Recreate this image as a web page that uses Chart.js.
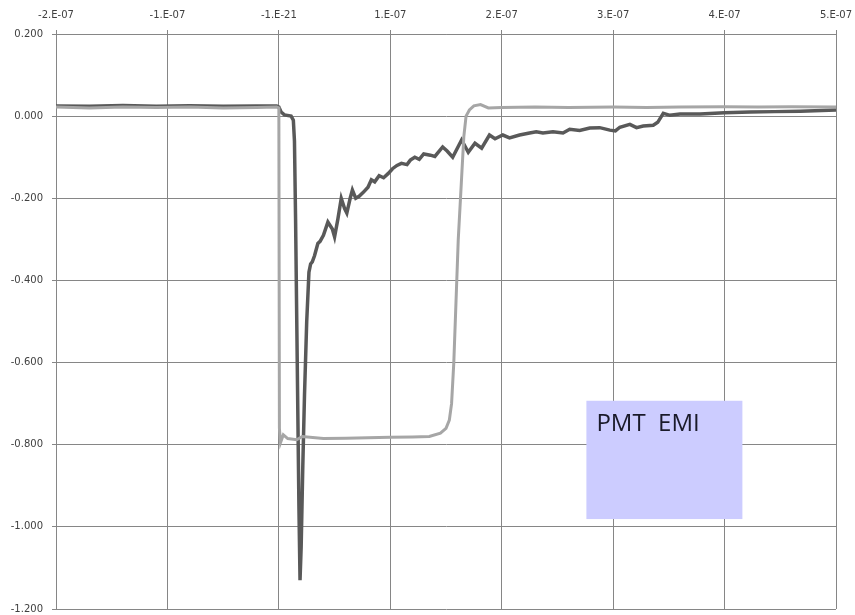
<!DOCTYPE html>
<html>
<head>
<meta charset="utf-8">
<script src="https://cdn.jsdelivr.net/npm/chart.js@4/dist/chart.umd.min.js"></script>
<style>
  html, body { margin: 0; padding: 0; background: #fff; }
  #wrap { width: 855px; height: 615px; }
</style>
</head>
<body>
<div id="wrap"><canvas id="chart" width="855" height="615"></canvas></div>
<script>
// Time axis in ns, labels as in the original export
const xTickLabels = ['-2.E-07', '-1.E-07', '-1.E-21', '1.E-07', '2.E-07', '3.E-07', '4.E-07', '5.E-07'];
const yTickLabels = ['0.200', '0.000', '-0.200', '-0.400', '-0.600', '-0.800', '-1.000', '-1.200'];

// Light trace (gate pulse)
const gateTime = [-200, -170, -140, -110, -80, -50, -20, -2, 0, 0.5, 1.5, 4, 8, 16, 21, 40, 60, 80, 100, 120, 135, 145, 150, 153, 155, 157, 159, 161, 164, 166, 168, 171, 175, 181, 188, 200, 230, 260, 300, 330, 360, 400, 430, 460, 500];
const gateValue = [0.022, 0.020, 0.022, 0.021, 0.022, 0.020, 0.021, 0.022, 0.020, -0.76, -0.795, -0.776, -0.785, -0.788, -0.780, -0.785, -0.784, -0.783, -0.782, -0.781, -0.780, -0.772, -0.760, -0.740, -0.700, -0.600, -0.450, -0.300, -0.150, -0.050, 0.000, 0.015, 0.025, 0.028, 0.020, 0.021, 0.022, 0.021, 0.022, 0.021, 0.022, 0.023, 0.022, 0.023, 0.022];

// Dark trace (PMT signal)
const pmtTime = [-200, -170, -140, -110, -80, -50, -20, -2, 0, 2, 5, 11, 13, 14, 15, 16.5, 18, 19, 20, 21.5, 23, 25, 27, 28.5, 30, 32, 35, 37, 40, 44, 48, 50, 53, 56, 59, 61, 64, 66, 69, 72, 76, 80, 83, 86, 90, 94, 98, 102, 106, 110, 115, 118, 122, 126, 130, 136, 140, 147, 151, 156, 164, 170, 176, 182, 189, 194, 201, 207, 216, 225, 231, 237, 246, 255, 261, 270, 279, 288, 297, 302, 306, 315, 321, 327, 336, 340, 345, 351, 360, 378, 400, 423, 445, 468, 500];
const pmtValue = [0.025, 0.024, 0.026, 0.024, 0.025, 0.024, 0.025, 0.025, 0.022, 0.010, 0.003, 0.000, -0.010, -0.060, -0.250, -0.600, -0.950, -1.130, -1.050, -0.850, -0.680, -0.500, -0.380, -0.360, -0.355, -0.340, -0.310, -0.305, -0.290, -0.258, -0.275, -0.294, -0.250, -0.200, -0.225, -0.236, -0.200, -0.180, -0.200, -0.195, -0.185, -0.173, -0.155, -0.160, -0.145, -0.150, -0.140, -0.128, -0.120, -0.115, -0.118, -0.107, -0.100, -0.105, -0.092, -0.095, -0.098, -0.075, -0.085, -0.100, -0.058, -0.088, -0.066, -0.078, -0.046, -0.055, -0.046, -0.053, -0.046, -0.041, -0.038, -0.041, -0.038, -0.041, -0.032, -0.035, -0.029, -0.028, -0.034, -0.036, -0.027, -0.020, -0.028, -0.024, -0.022, -0.015, 0.007, 0.002, 0.005, 0.005, 0.008, 0.010, 0.011, 0.012, 0.015];

const boxText = 'PMT  EMI';

function toPoints(xs, ys) {
  return xs.map((x, i) => ({ x: x, y: ys[i] }));
}

// Lavender text box, drawn in data coordinates
const textBoxPlugin = {
  id: 'textBox',
  afterDatasetsDraw(chart) {
    const { ctx, scales } = chart;
    const x0 = scales.x.getPixelForValue(276);
    const x1 = scales.x.getPixelForValue(416);
    const y0 = scales.y.getPixelForValue(-0.693);
    const y1 = scales.y.getPixelForValue(-0.981);
    ctx.save();
    ctx.fillStyle = '#ccccff';
    ctx.fillRect(x0, y0, x1 - x0, y1 - y0);
    ctx.fillStyle = '#1a1a2a';
    ctx.font = '24px "Open Sans", "Liberation Sans", sans-serif';
    ctx.textBaseline = 'alphabetic';
    ctx.fillText(boxText, x0 + 10, y0 + 30);
    ctx.restore();
  }
};

const tickFont = { family: 'DejaVu Sans', size: 10 };

new Chart(document.getElementById('chart'), {
  type: 'scatter',
  data: {
    datasets: [
      {
        label: 'Gate',
        data: toPoints(gateTime, gateValue),
        showLine: true,
        borderColor: '#a6a6a6',
        borderWidth: 3,
        pointRadius: 0,
        tension: 0
      },
      {
        label: 'PMT',
        data: toPoints(pmtTime, pmtValue),
        showLine: true,
        borderColor: '#595959',
        borderWidth: 3.5,
        pointRadius: 0,
        tension: 0
      }
    ]
  },
  options: {
    responsive: false,
    animation: false,
    layout: { padding: { top: 0, right: 19, bottom: 6, left: 0 } },
    plugins: {
      legend: { display: false },
      tooltip: { enabled: false }
    },
    scales: {
      x: {
        type: 'linear',
        position: 'top',
        min: -200,
        max: 500,
        afterFit(axis) {
          axis.height = 34;
          axis.paddingLeft = 0;
          axis.paddingRight = 0;
        },
        ticks: {
          stepSize: 100,
          color: '#404040',
          font: tickFont,
          maxRotation: 0,
          padding: 9,
          callback: (v, i) => xTickLabels[i]
        },
        grid: { color: '#868686', tickLength: 4 },
        border: { color: '#868686' }
      },
      y: {
        min: -1.2,
        max: 0.2,
        afterFit(axis) {
          axis.width = 56;
          axis.paddingTop = 0;
          axis.paddingBottom = 0;
        },
        ticks: {
          stepSize: 0.2,
          color: '#404040',
          font: tickFont,
          padding: 9,
          callback: (v, i, ticks) => yTickLabels[ticks.length - 1 - i]
        },
        grid: { color: '#868686', tickLength: 4 },
        border: { color: '#868686' }
      }
    }
  },
  plugins: [textBoxPlugin]
});
</script>
</body>
</html>
